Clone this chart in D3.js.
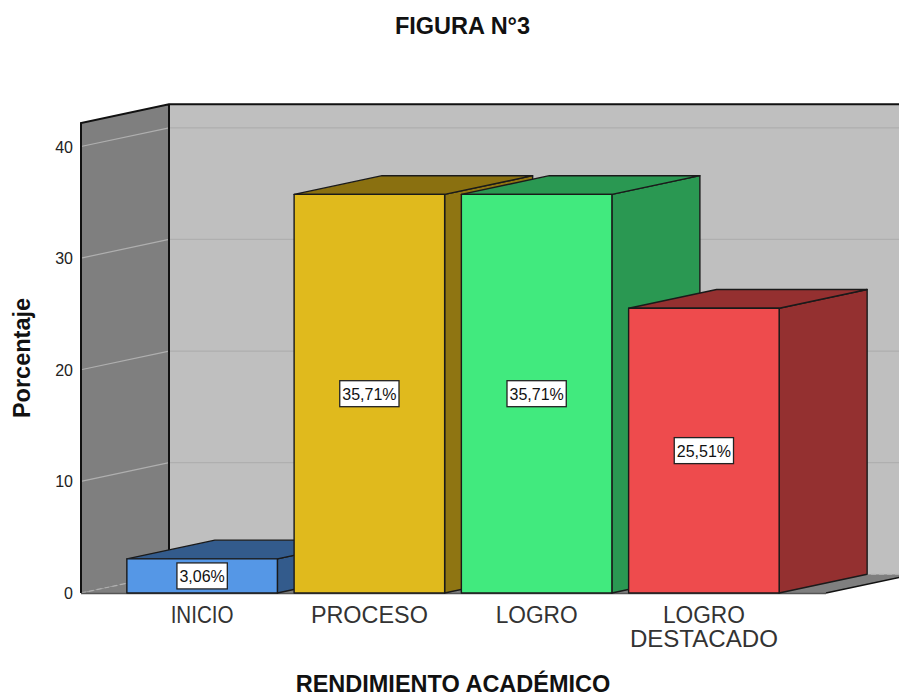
<!DOCTYPE html>
<html><head><meta charset="utf-8">
<script src="https://cdn.jsdelivr.net/npm/d3@7"></script>
<style>html,body{margin:0;padding:0;background:#fff}svg{display:block}text{font-family:"Liberation Sans",Arial,sans-serif}</style>
</head><body><svg id="c" width="899" height="695"></svg>
<script>
const categories=[["INICIO"],["PROCESO"],["LOGRO"],["LOGRO","DESTACADO"]];
const values=[3.06,35.71,35.71,25.51];
const valueLabels=["3,06%","35,71%","35,71%","25,51%"];
const frontColors=["#5597e6","#e0ba1d","#41ea7e","#ee4b4d"];
const sideColors=["#335b8c","#8f7512","#2a9852","#943030"];
const topColors=["#335b8c","#8a7010","#2a9852","#943030"];
const ticks=[0,10,20,30,40];
const titleText="FIGURA N°3",xTitle="RENDIMIENTO ACADÉMICO",yTitle="Porcentaje";

const W=899,H=695,dx=88,dy=-18.7;
const svg=d3.select("#c");
const y=d3.scaleLinear().domain([0,40]).range([593,146.5]);
const x=d3.scaleBand().domain(d3.range(4)).range([118.5,787.5]).paddingInner(.1).paddingOuter(.05);
const x0=81,x1=826,yTop=123;
const path=p=>"M"+p.map(a=>a.join(",")).join("L")+"Z";
svg.append("defs").append("clipPath").attr("id","cl").append("rect").attr("width",W).attr("height",H);
const g=svg.append("g").attr("clip-path","url(#cl)");
// back wall
g.append("path").attr("d",path([[x0+dx,yTop+dy],[W+20,yTop+dy],[W+20,593+dy],[x0+dx,593+dy]])).attr("fill","#bfbfbf");
// floor
g.append("path").attr("d",path([[x0,593],[x1,593],[x1+dx,593+dy],[x0+dx,593+dy]])).attr("fill","#7f7f7f");
g.append("path").attr("d",`M${x1},593L${x1+dx},${593+dy}`).attr("stroke","#111").attr("stroke-width",1.6).attr("fill","none");
// left wall
g.append("path").attr("d",path([[x0,yTop],[x0+dx,yTop+dy],[x0+dx,593+dy],[x0,593]])).attr("fill","#7f7f7f");
// gridlines
ticks.forEach(t=>{
  const yy=y(t);
  g.append("path").attr("d",`M${x0},${yy}L${x0+dx},${yy+dy}L${W+20},${yy+dy}`).attr("fill","none")
   .attr("stroke","#afafaf").attr("stroke-width",1.2).attr("stroke-dasharray",t===0?"5 3":null);
});
// wall edges
g.append("path").attr("d",`M${x0},593L${x0},${yTop}L${x0+dx},${yTop+dy}L${W+20},${yTop+dy}M${x0+dx},${yTop+dy}L${x0+dx},${593+dy}`)
 .attr("fill","none").attr("stroke","#111").attr("stroke-width",2);
g.append("line").attr("x1",x0).attr("x2",x1).attr("y1",593.5).attr("y2",593.5).attr("stroke","#555").attr("stroke-width",1.4);
// bars
values.forEach((v,i)=>{
  const l=x(i),r=l+x.bandwidth(),t=y(v),b=y(0);
  const add=(pts,f)=>g.append("path").attr("d",path(pts)).attr("fill",f).attr("stroke","#1a1a1a").attr("stroke-width",1.4).attr("stroke-linejoin","round");
  add([[r,t],[r+dx,t+dy],[r+dx,b+dy],[r,b]],sideColors[i]);
  add([[l,t],[l+dx,t+dy],[r+dx,t+dy],[r,t]],topColors[i]);
  add([[l,t],[r,t],[r,b],[l,b]],frontColors[i]);
});
// value labels
values.forEach((v,i)=>{
  const cx=x(i)+x.bandwidth()/2,cy=(y(v)+y(0))/2;
  const rect=g.append("rect").attr("fill","#fff").attr("stroke","#222").attr("stroke-width",1.3);
  const tx=g.append("text").attr("x",cx).attr("y",cy+6).attr("text-anchor","middle").attr("font-size",16).attr("fill","#111").text(valueLabels[i]);
  const bw=tx.node().getComputedTextLength()+5,bh=26;
  rect.attr("x",cx-bw/2).attr("y",cy-bh/2).attr("width",bw).attr("height",bh);
});
// y ticks
svg.selectAll(".yt").data(ticks).join("text").attr("class","yt").attr("x",73).attr("y",d=>y(d)+6)
 .attr("text-anchor","end").attr("font-size",16).attr("fill","#222").text(d=>d);
// categories
const labelWidths=[[63],[117],[82],[82,148]];
categories.forEach((c,i)=>{
  const cx=x(i)+x.bandwidth()/2;
  c.forEach((s,j)=>{
    svg.append("text").attr("x",cx).attr("y",623+j*24).attr("text-anchor","middle").attr("font-size",23).attr("fill","#333")
      .attr("textLength",labelWidths[i][j]).attr("lengthAdjust","spacingAndGlyphs").text(s);
  });
});
svg.append("text").attr("x",462.5).attr("y",34).attr("text-anchor","middle").attr("font-size",23.5).attr("font-weight","bold").attr("fill","#111").text(titleText);
svg.append("text").attr("x",453).attr("y",692).attr("text-anchor","middle").attr("font-size",23.5).attr("font-weight","bold").attr("fill","#111").text(xTitle);
svg.append("text").attr("transform","translate(30,358) rotate(-90)").attr("text-anchor","middle").attr("font-size",23.5).attr("font-weight","bold").attr("fill","#111").text(yTitle);
</script></body></html>
